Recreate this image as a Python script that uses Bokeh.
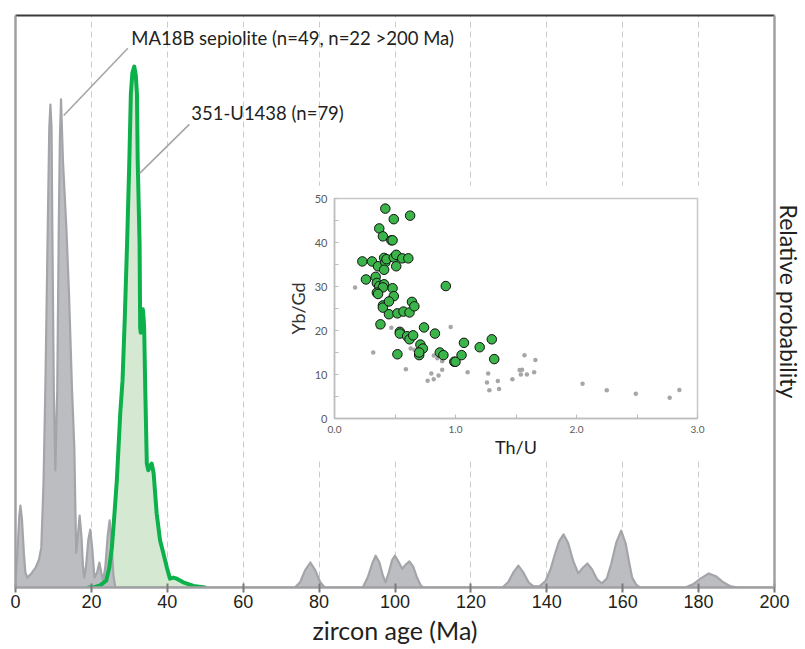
from bokeh.plotting import figure
from bokeh.models import Range1d, LinearAxis, FixedTicker, Label, NumeralTickFormatter
from bokeh.layouts import column
from bokeh.embed import file_html
from bokeh.resources import INLINE

# ---------------- data: probability density curves (age in Ma, relative probability) -------------
sep_age = [0, 0.5, 1.0, 1.3, 1.7, 2.2, 2.6, 3.1, 4.2, 5.3, 6.2, 6.8, 7.4, 7.9, 8.5, 8.9, 9.2, 9.5,
           9.7, 10.1, 10.5, 11.0, 11.4, 11.7, 12.0, 12.5, 13.4, 14.1, 14.9, 15.5, 15.8, 16.0, 16.4,
           16.9, 17.4, 17.8, 18.1, 18.6, 19.2, 19.7, 20.2, 20.8, 21.5, 22.1, 22.6, 23.1, 23.7, 24.3,
           24.8, 25.3, 25.8, 26.3,
           73.6, 75.0, 76.3, 77.7, 79.0, 80.3, 81.5,
           91.5, 92.8, 94.0, 94.9, 95.9, 96.8, 97.5, 98.3, 99.2, 100.0, 100.9, 101.9, 102.8, 103.8,
           104.8, 105.8, 106.8, 107.5,
           128.3, 129.8, 131.2, 132.5, 133.8, 135.2, 136.5, 138.0, 139.7, 141.0, 141.9, 143.2, 144.4,
           145.6, 147.0, 148.3, 149.5, 150.7, 151.9, 153.3, 154.5, 155.8, 157.0, 158.3, 159.6, 160.8,
           161.7, 162.5, 163.5, 164.5,
           176.5, 178.5, 180.5, 182.7, 184.7, 186.5, 188.5, 190.5, 200]
sep_prob = [1.5, 6.7, 13.8, 15.7, 13.1, 6.7, 2.9, 1.9, 2.7, 3.8, 5.4, 7.7, 20.5, 39.7, 69.1, 88.3,
            92.7, 88.3, 69.1, 37.8, 22.5, 37.8, 69.1, 86.4, 93.7, 82.0, 69.1, 56.4, 37.8, 26.9, 14.2,
            6.7, 9.6, 13.8, 9.6, 3.8, 1.9, 4.2, 9.2, 11.1, 7.7, 1.9, 2.9, 4.8, 2.9, 1.3, 4.2, 10.0,
            12.9, 8.6, 2.3, 0,
            0, 1.0, 3.3, 4.8, 3.3, 1.0, 0,
            0, 1.9, 4.6, 6.1, 4.8, 2.3, 1.0, 2.7, 5.2, 6.1, 5.0, 3.6, 4.4, 5.0,
            4.0, 1.9, 0.4, 0,
            0, 1.0, 2.9, 4.2, 2.9, 1.0, 0.2, 0.2, 1.3, 3.5, 5.8, 8.8, 10.2,
            8.6, 5.0, 2.7, 3.8, 4.6, 3.5, 1.5, 0.8, 1.7, 4.6, 8.6, 10.9, 8.4,
            4.8, 1.9, 0.6, 0,
            0, 0.6, 1.7, 2.7, 2.1, 1.0, 0.2, 0, 0]

u1438_age = [19.3, 21.0, 22.3, 23.9, 24.7, 25.4, 26.0, 26.7, 27.6, 28.2, 28.8, 29.4, 30.0, 30.4,
             30.8, 31.3, 31.7, 32.0, 32.2, 32.7, 32.85, 33.0, 33.3, 33.55, 33.75, 33.9, 34.2, 34.6,
             35.0, 35.5, 35.9, 36.4, 37.2, 38.1, 39.0, 39.9, 40.7, 41.6, 42.5, 44.2, 46.9, 49.9]
u1438_prob = [0, 0.1, 0.4, 1.3, 3.8, 7.7, 13.4, 20.5, 33.4, 39.7, 51.8, 66.0, 82.0, 94.8,
              98.8, 100.0, 98.3, 94.8, 82.0, 66.0, 49.9, 48.9, 51.8, 53.4, 51.8, 49.9, 37.8, 23.8,
              22.5, 23.4, 23.8, 21.9, 14.2, 9.0, 6.5, 3.8, 1.7, 1.9, 1.7, 1.0, 0.3, 0]

age_ticks = [0, 20, 40, 60, 80, 100, 120, 140, 160, 180, 200]

# ---------------- data: inset Th/U vs Yb/Gd ----------------
green_thu = [0.42, 0.49, 0.625, 0.37, 0.40, 0.47, 0.48, 0.23, 0.31, 0.36, 0.41, 0.42, 0.43, 0.41,
             0.49, 0.51, 0.51, 0.56, 0.61, 0.26, 0.34, 0.35, 0.37, 0.41, 0.40, 0.48, 0.35, 0.36,
             0.49, 0.40, 0.40, 0.45, 0.45, 0.52, 0.57, 0.62, 0.64, 0.66, 0.92, 0.38, 0.54, 0.54,
             0.60, 0.62, 0.65, 0.74, 0.83, 0.71, 0.73, 0.52, 0.70, 0.70, 0.87, 0.90, 0.99, 1.00,
             1.05, 1.07, 1.20, 1.30, 1.32]
green_ybgd = [47.7, 45.3, 46.1, 43.2, 41.4, 40.5, 40.5, 35.7, 35.7, 34.6, 36.5, 35.5, 36.2, 33.8,
              36.6, 37.2, 34.6, 36.4, 36.4, 31.6, 32.2, 30.8, 30.1, 30.5, 29.8, 29.6, 28.6, 28.3,
              27.8, 25.7, 25.2, 26.6, 23.7, 23.9, 24.3, 24.1, 26.5, 25.5, 30.1, 21.4, 19.7, 19.3,
              18.7, 18.0, 18.9, 20.7, 19.3, 16.8, 15.9, 14.6, 14.4, 15.0, 15.0, 14.4, 12.9, 12.9,
              14.4, 17.2, 16.2, 18.0, 13.5]
gray_thu = [0.17, 0.32, 0.36, 0.47, 0.59, 0.63, 0.66, 0.77, 0.80, 0.82, 0.82, 0.85, 0.86, 0.89,
            0.89, 0.96, 1.10, 1.26, 1.27, 1.28, 1.35, 1.36, 1.47, 1.53, 1.55, 1.54, 1.57, 1.59,
            1.65, 1.66, 2.05, 2.25, 2.49, 2.77, 2.85]
gray_ybgd = [29.8, 15.0, 20.8, 20.6, 11.2, 15.9, 15.6, 8.6, 10.2, 8.9, 14.3, 13.7, 9.8, 11.1,
             13.0, 20.8, 10.5, 8.2, 10.2, 6.4, 8.5, 6.7, 8.9, 11.0, 11.1, 10.0, 14.4, 10.0,
             10.5, 13.3, 7.9, 6.4, 5.6, 4.7, 6.5]
thu_major = [0.0, 1.0, 2.0, 3.0]
thu_minor = [0.5, 1.5, 2.5]
ybgd_major = [0, 10, 20, 30, 40, 50]
ybgd_minor = [5, 15, 25, 35, 45]

FONT = "Lato"
TXT = "#231f20"

# ---------------- main figure ----------------
p = figure(width=805, height=649, x_range=Range1d(0, 200), y_range=Range1d(0, 109.8),
           output_backend="svg", toolbar_location=None, frame_align=False,
           min_border_left=15, min_border_right=29, min_border_top=15, min_border_bottom=62)
p.outline_line_color = None
p.background_fill_color = "white"
p.border_fill_color = "white"

p.ygrid.visible = False
p.xgrid.ticker = FixedTicker(ticks=age_ticks[1:-1])
p.xgrid.grid_line_color = "#cbcbcb"
p.xgrid.grid_line_dash = "6 4"
p.xgrid.grid_line_width = 1

xa = p.xaxis[0]
xa.ticker = FixedTicker(ticks=age_ticks)
xa.axis_line_color = "#a0a0a3"
xa.axis_line_width = 2.5
xa.major_tick_line_color = "#7a7a7a"
xa.major_tick_line_width = 2
xa.major_tick_in = 4
xa.major_tick_out = 5
xa.minor_tick_line_color = None
xa.major_label_text_font = "Liberation Sans"
xa.major_label_text_font_size = "18px"
xa.major_label_text_color = TXT
xa.major_label_standoff = 2
xa.axis_label = "zircon age (Ma)"
xa.axis_label_text_font = FONT
xa.axis_label_text_font_style = "normal"
xa.axis_label_text_font_size = "25px"
xa.axis_label_text_color = TXT
xa.axis_label_standoff = 4

ya = p.yaxis[0]
ya.ticker = FixedTicker(ticks=[])
ya.axis_line_color = "#a0a0a3"
ya.axis_line_width = 2.5
ya.major_tick_line_color = None
ya.minor_tick_line_color = None
ya.major_label_standoff = 0

top_ax = LinearAxis(ticker=FixedTicker(ticks=[]), axis_line_color="#3a3a3a", axis_line_width=2,
                    major_tick_line_color=None, minor_tick_line_color=None,
                    major_label_standoff=0)
p.add_layout(top_ax, "above")

right_ax = LinearAxis(ticker=FixedTicker(ticks=[]), axis_line_color="#a0a0a3",
                      axis_line_width=2.5,
                      major_tick_line_color=None, minor_tick_line_color=None,
                      major_label_standoff=0,
                      axis_label="Relative probability", axis_label_standoff=0,
                      axis_label_text_font=FONT, axis_label_text_font_style="normal",
                      axis_label_text_font_size="23px", axis_label_text_color=TXT)
p.add_layout(right_ax, "right")

p.varea(x=u1438_age, y1=0, y2=u1438_prob, fill_color="#d5e8d2")
p.varea(x=sep_age, y1=0, y2=sep_prob, fill_color="#bcbdc1")
p.line(sep_age, sep_prob, line_color="#a4a5a9", line_width=2.2, line_join="round")
p.line(u1438_age, u1438_prob, line_color="#0cb14b", line_width=4, line_join="round",
       line_cap="round")

# leader lines and labels
p.segment(x0=[12.7, 32.7], y0=[90.6, 79.5], x1=[29.6, 45.8], y1=[103.5, 88.9],
          line_color="#a6a6a6", line_width=1.6)
p.add_layout(Label(x=30.5, y=105.4, text="MA18B sepiolite (n=49, n=22 >200 Ma)",
                   text_font=FONT, text_font_size="18.5px", text_color=TXT,
                   text_baseline="middle"))
p.add_layout(Label(x=46.3, y=91.0, text="351-U1438 (n=79)",
                   text_font=FONT, text_font_size="18.5px", text_color=TXT,
                   text_baseline="middle"))

# ---------------- inset figure ----------------
INSET_W, INSET_H = 437, 275
inset = figure(width=INSET_W, height=INSET_H, x_range=Range1d(0, 3), y_range=Range1d(0, 50),
               output_backend="svg", toolbar_location=None, frame_align=False,
               min_border_left=50, min_border_right=23, min_border_top=13, min_border_bottom=41,
               margin=(185 - 649, 0, 649 - 185 - INSET_H, 283))
inset.background_fill_color = "white"
inset.border_fill_color = "white"
inset.outline_line_color = "#c8c8c8"
inset.outline_line_width = 1.5
inset.grid.visible = False

ix = inset.xaxis[0]
ix.ticker = FixedTicker(ticks=thu_major, minor_ticks=thu_minor)
ix.formatter = NumeralTickFormatter(format="0.0")
ix.axis_line_color = "#bdbdbd"
ix.axis_line_width = 1.5
ix.major_tick_line_color = "#bdbdbd"
ix.major_tick_in = 4
ix.major_tick_out = 0
ix.minor_tick_line_color = "#bdbdbd"
ix.minor_tick_in = 4
ix.minor_tick_out = 0
ix.major_label_text_font = FONT
ix.major_label_text_font_size = "10px"
ix.major_label_text_color = "#595959"
ix.major_label_standoff = 7
ix.axis_label = "Th/U"
ix.axis_label_text_font = FONT
ix.axis_label_text_font_style = "normal"
ix.axis_label_text_font_size = "18px"
ix.axis_label_text_color = TXT
ix.axis_label_standoff = 0

iy = inset.yaxis[0]
iy.ticker = FixedTicker(ticks=ybgd_major, minor_ticks=ybgd_minor)
iy.axis_line_color = "#bdbdbd"
iy.axis_line_width = 1.5
iy.major_tick_line_color = "#bdbdbd"
iy.major_tick_in = 4
iy.major_tick_out = 0
iy.minor_tick_line_color = "#bdbdbd"
iy.minor_tick_in = 4
iy.minor_tick_out = 0
iy.major_label_text_font = FONT
iy.major_label_text_font_size = "11px"
iy.major_label_text_color = "#595959"
iy.major_label_standoff = 7
iy.axis_label = "Yb/Gd"
iy.axis_label_text_font = FONT
iy.axis_label_text_font_style = "normal"
iy.axis_label_text_font_size = "18px"
iy.axis_label_text_color = "#333333"
iy.axis_label_standoff = 3

inset.scatter(gray_thu, gray_ybgd, size=4.5, fill_color="#a6a6a6", line_color=None)
inset.scatter(green_thu, green_ybgd, size=9.5, fill_color="#3bb54a", line_color="#111111",
              line_width=1)

layout = column(p, inset, spacing=0)
open("out.html", "w").write(file_html(layout, INLINE))
